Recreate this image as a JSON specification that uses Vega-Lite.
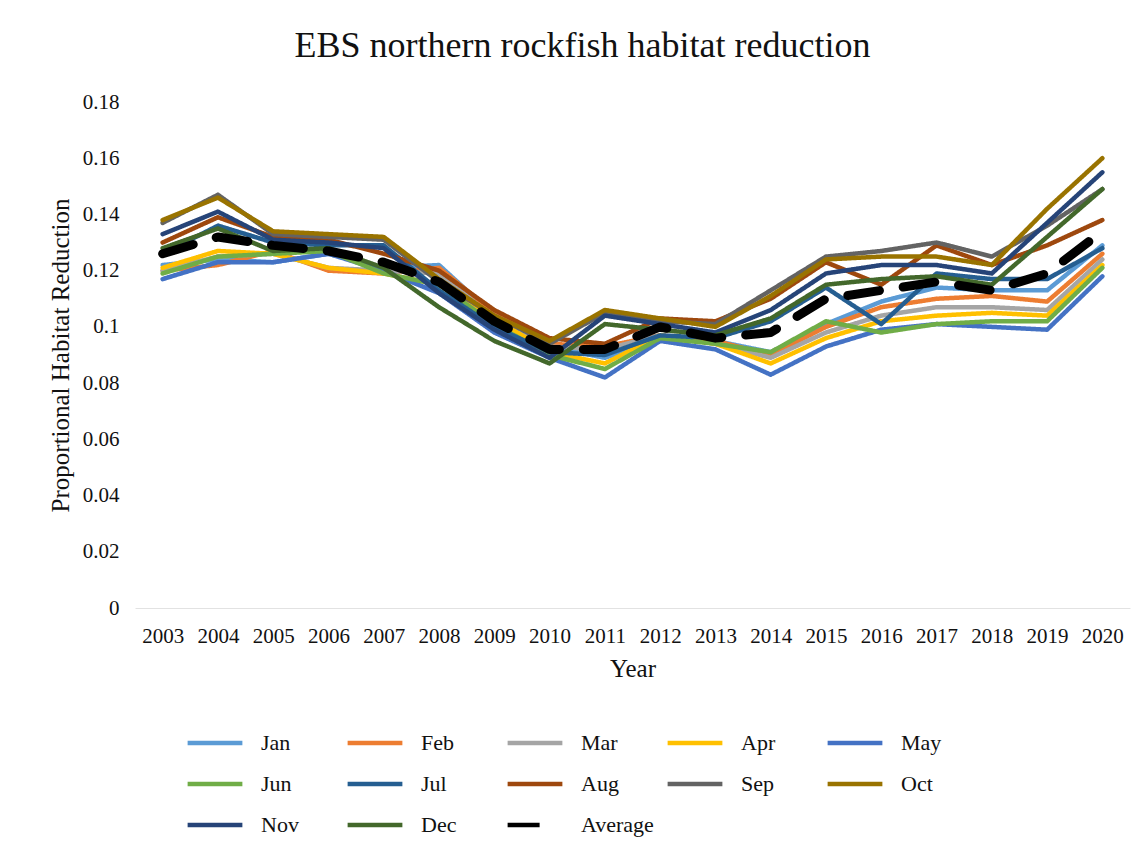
{
  "$schema": "https://vega.github.io/schema/vega-lite/v6.json",
  "width": 995,
  "height": 506,
  "autosize": {"type": "none"},
  "padding": {"left": 135, "top": 102, "right": 14, "bottom": 242},
  "background": "white",
  "config": {
    "view": {"stroke": null},
    "font": "Liberation Serif"
  },
  "title": {
    "text": "EBS northern rockfish habitat reduction",
    "font": "Liberation Serif",
    "fontSize": 36,
    "fontWeight": "normal",
    "color": "#111111",
    "anchor": "middle",
    "dx": -50,
    "offset": 26
  },
  "datasets": {
    "d": [
      {"Year":"2003","Series":"Jan","Value":0.122},{"Year":"2004","Series":"Jan","Value":0.124},{"Year":"2005","Series":"Jan","Value":0.123},{"Year":"2006","Series":"Jan","Value":0.126},{"Year":"2007","Series":"Jan","Value":0.121},{"Year":"2008","Series":"Jan","Value":0.122},{"Year":"2009","Series":"Jan","Value":0.104},{"Year":"2010","Series":"Jan","Value":0.093},{"Year":"2011","Series":"Jan","Value":0.089},{"Year":"2012","Series":"Jan","Value":0.096},{"Year":"2013","Series":"Jan","Value":0.095},{"Year":"2014","Series":"Jan","Value":0.091},{"Year":"2015","Series":"Jan","Value":0.101},{"Year":"2016","Series":"Jan","Value":0.109},{"Year":"2017","Series":"Jan","Value":0.114},{"Year":"2018","Series":"Jan","Value":0.113},{"Year":"2019","Series":"Jan","Value":0.113},{"Year":"2020","Series":"Jan","Value":0.129},
      {"Year":"2003","Series":"Feb","Value":0.120},{"Year":"2004","Series":"Feb","Value":0.122},{"Year":"2005","Series":"Feb","Value":0.127},{"Year":"2006","Series":"Feb","Value":0.120},{"Year":"2007","Series":"Feb","Value":0.119},{"Year":"2008","Series":"Feb","Value":0.121},{"Year":"2009","Series":"Feb","Value":0.105},{"Year":"2010","Series":"Feb","Value":0.094},{"Year":"2011","Series":"Feb","Value":0.093},{"Year":"2012","Series":"Feb","Value":0.097},{"Year":"2013","Series":"Feb","Value":0.095},{"Year":"2014","Series":"Feb","Value":0.090},{"Year":"2015","Series":"Feb","Value":0.100},{"Year":"2016","Series":"Feb","Value":0.107},{"Year":"2017","Series":"Feb","Value":0.110},{"Year":"2018","Series":"Feb","Value":0.111},{"Year":"2019","Series":"Feb","Value":0.109},{"Year":"2020","Series":"Feb","Value":0.126},
      {"Year":"2003","Series":"Mar","Value":0.120},{"Year":"2004","Series":"Mar","Value":0.125},{"Year":"2005","Series":"Mar","Value":0.126},{"Year":"2006","Series":"Mar","Value":0.121},{"Year":"2007","Series":"Mar","Value":0.120},{"Year":"2008","Series":"Mar","Value":0.119},{"Year":"2009","Series":"Mar","Value":0.103},{"Year":"2010","Series":"Mar","Value":0.093},{"Year":"2011","Series":"Mar","Value":0.092},{"Year":"2012","Series":"Mar","Value":0.097},{"Year":"2013","Series":"Mar","Value":0.094},{"Year":"2014","Series":"Mar","Value":0.089},{"Year":"2015","Series":"Mar","Value":0.098},{"Year":"2016","Series":"Mar","Value":0.104},{"Year":"2017","Series":"Mar","Value":0.107},{"Year":"2018","Series":"Mar","Value":0.107},{"Year":"2019","Series":"Mar","Value":0.106},{"Year":"2020","Series":"Mar","Value":0.124},
      {"Year":"2003","Series":"Apr","Value":0.121},{"Year":"2004","Series":"Apr","Value":0.127},{"Year":"2005","Series":"Apr","Value":0.126},{"Year":"2006","Series":"Apr","Value":0.121},{"Year":"2007","Series":"Apr","Value":0.119},{"Year":"2008","Series":"Apr","Value":0.115},{"Year":"2009","Series":"Apr","Value":0.103},{"Year":"2010","Series":"Apr","Value":0.091},{"Year":"2011","Series":"Apr","Value":0.087},{"Year":"2012","Series":"Apr","Value":0.097},{"Year":"2013","Series":"Apr","Value":0.094},{"Year":"2014","Series":"Apr","Value":0.087},{"Year":"2015","Series":"Apr","Value":0.096},{"Year":"2016","Series":"Apr","Value":0.102},{"Year":"2017","Series":"Apr","Value":0.104},{"Year":"2018","Series":"Apr","Value":0.105},{"Year":"2019","Series":"Apr","Value":0.104},{"Year":"2020","Series":"Apr","Value":0.122},
      {"Year":"2003","Series":"May","Value":0.117},{"Year":"2004","Series":"May","Value":0.123},{"Year":"2005","Series":"May","Value":0.123},{"Year":"2006","Series":"May","Value":0.126},{"Year":"2007","Series":"May","Value":0.120},{"Year":"2008","Series":"May","Value":0.112},{"Year":"2009","Series":"May","Value":0.098},{"Year":"2010","Series":"May","Value":0.089},{"Year":"2011","Series":"May","Value":0.082},{"Year":"2012","Series":"May","Value":0.095},{"Year":"2013","Series":"May","Value":0.092},{"Year":"2014","Series":"May","Value":0.083},{"Year":"2015","Series":"May","Value":0.093},{"Year":"2016","Series":"May","Value":0.099},{"Year":"2017","Series":"May","Value":0.101},{"Year":"2018","Series":"May","Value":0.100},{"Year":"2019","Series":"May","Value":0.099},{"Year":"2020","Series":"May","Value":0.118},
      {"Year":"2003","Series":"Jun","Value":0.119},{"Year":"2004","Series":"Jun","Value":0.125},{"Year":"2005","Series":"Jun","Value":0.126},{"Year":"2006","Series":"Jun","Value":0.127},{"Year":"2007","Series":"Jun","Value":0.119},{"Year":"2008","Series":"Jun","Value":0.115},{"Year":"2009","Series":"Jun","Value":0.101},{"Year":"2010","Series":"Jun","Value":0.090},{"Year":"2011","Series":"Jun","Value":0.085},{"Year":"2012","Series":"Jun","Value":0.096},{"Year":"2013","Series":"Jun","Value":0.094},{"Year":"2014","Series":"Jun","Value":0.091},{"Year":"2015","Series":"Jun","Value":0.102},{"Year":"2016","Series":"Jun","Value":0.098},{"Year":"2017","Series":"Jun","Value":0.101},{"Year":"2018","Series":"Jun","Value":0.102},{"Year":"2019","Series":"Jun","Value":0.102},{"Year":"2020","Series":"Jun","Value":0.121},
      {"Year":"2003","Series":"Jul","Value":0.126},{"Year":"2004","Series":"Jul","Value":0.136},{"Year":"2005","Series":"Jul","Value":0.130},{"Year":"2006","Series":"Jul","Value":0.129},{"Year":"2007","Series":"Jul","Value":0.129},{"Year":"2008","Series":"Jul","Value":0.113},{"Year":"2009","Series":"Jul","Value":0.100},{"Year":"2010","Series":"Jul","Value":0.091},{"Year":"2011","Series":"Jul","Value":0.090},{"Year":"2012","Series":"Jul","Value":0.097},{"Year":"2013","Series":"Jul","Value":0.096},{"Year":"2014","Series":"Jul","Value":0.102},{"Year":"2015","Series":"Jul","Value":0.114},{"Year":"2016","Series":"Jul","Value":0.101},{"Year":"2017","Series":"Jul","Value":0.119},{"Year":"2018","Series":"Jul","Value":0.117},{"Year":"2019","Series":"Jul","Value":0.117},{"Year":"2020","Series":"Jul","Value":0.128},
      {"Year":"2003","Series":"Aug","Value":0.130},{"Year":"2004","Series":"Aug","Value":0.139},{"Year":"2005","Series":"Aug","Value":0.132},{"Year":"2006","Series":"Aug","Value":0.131},{"Year":"2007","Series":"Aug","Value":0.126},{"Year":"2008","Series":"Aug","Value":0.120},{"Year":"2009","Series":"Aug","Value":0.106},{"Year":"2010","Series":"Aug","Value":0.096},{"Year":"2011","Series":"Aug","Value":0.094},{"Year":"2012","Series":"Aug","Value":0.103},{"Year":"2013","Series":"Aug","Value":0.102},{"Year":"2014","Series":"Aug","Value":0.110},{"Year":"2015","Series":"Aug","Value":0.123},{"Year":"2016","Series":"Aug","Value":0.115},{"Year":"2017","Series":"Aug","Value":0.129},{"Year":"2018","Series":"Aug","Value":0.122},{"Year":"2019","Series":"Aug","Value":0.129},{"Year":"2020","Series":"Aug","Value":0.138},
      {"Year":"2003","Series":"Sep","Value":0.137},{"Year":"2004","Series":"Sep","Value":0.147},{"Year":"2005","Series":"Sep","Value":0.133},{"Year":"2006","Series":"Sep","Value":0.132},{"Year":"2007","Series":"Sep","Value":0.131},{"Year":"2008","Series":"Sep","Value":0.116},{"Year":"2009","Series":"Sep","Value":0.104},{"Year":"2010","Series":"Sep","Value":0.094},{"Year":"2011","Series":"Sep","Value":0.105},{"Year":"2012","Series":"Sep","Value":0.102},{"Year":"2013","Series":"Sep","Value":0.101},{"Year":"2014","Series":"Sep","Value":0.113},{"Year":"2015","Series":"Sep","Value":0.125},{"Year":"2016","Series":"Sep","Value":0.127},{"Year":"2017","Series":"Sep","Value":0.130},{"Year":"2018","Series":"Sep","Value":0.125},{"Year":"2019","Series":"Sep","Value":0.136},{"Year":"2020","Series":"Sep","Value":0.149},
      {"Year":"2003","Series":"Oct","Value":0.138},{"Year":"2004","Series":"Oct","Value":0.146},{"Year":"2005","Series":"Oct","Value":0.134},{"Year":"2006","Series":"Oct","Value":0.133},{"Year":"2007","Series":"Oct","Value":0.132},{"Year":"2008","Series":"Oct","Value":0.117},{"Year":"2009","Series":"Oct","Value":0.104},{"Year":"2010","Series":"Oct","Value":0.095},{"Year":"2011","Series":"Oct","Value":0.106},{"Year":"2012","Series":"Oct","Value":0.103},{"Year":"2013","Series":"Oct","Value":0.100},{"Year":"2014","Series":"Oct","Value":0.111},{"Year":"2015","Series":"Oct","Value":0.124},{"Year":"2016","Series":"Oct","Value":0.125},{"Year":"2017","Series":"Oct","Value":0.125},{"Year":"2018","Series":"Oct","Value":0.122},{"Year":"2019","Series":"Oct","Value":0.142},{"Year":"2020","Series":"Oct","Value":0.160},
      {"Year":"2003","Series":"Nov","Value":0.133},{"Year":"2004","Series":"Nov","Value":0.141},{"Year":"2005","Series":"Nov","Value":0.131},{"Year":"2006","Series":"Nov","Value":0.130},{"Year":"2007","Series":"Nov","Value":0.128},{"Year":"2008","Series":"Nov","Value":0.112},{"Year":"2009","Series":"Nov","Value":0.099},{"Year":"2010","Series":"Nov","Value":0.089},{"Year":"2011","Series":"Nov","Value":0.104},{"Year":"2012","Series":"Nov","Value":0.101},{"Year":"2013","Series":"Nov","Value":0.098},{"Year":"2014","Series":"Nov","Value":0.106},{"Year":"2015","Series":"Nov","Value":0.119},{"Year":"2016","Series":"Nov","Value":0.122},{"Year":"2017","Series":"Nov","Value":0.122},{"Year":"2018","Series":"Nov","Value":0.119},{"Year":"2019","Series":"Nov","Value":0.137},{"Year":"2020","Series":"Nov","Value":0.155},
      {"Year":"2003","Series":"Dec","Value":0.128},{"Year":"2004","Series":"Dec","Value":0.135},{"Year":"2005","Series":"Dec","Value":0.127},{"Year":"2006","Series":"Dec","Value":0.128},{"Year":"2007","Series":"Dec","Value":0.121},{"Year":"2008","Series":"Dec","Value":0.107},{"Year":"2009","Series":"Dec","Value":0.095},{"Year":"2010","Series":"Dec","Value":0.087},{"Year":"2011","Series":"Dec","Value":0.101},{"Year":"2012","Series":"Dec","Value":0.099},{"Year":"2013","Series":"Dec","Value":0.097},{"Year":"2014","Series":"Dec","Value":0.103},{"Year":"2015","Series":"Dec","Value":0.115},{"Year":"2016","Series":"Dec","Value":0.117},{"Year":"2017","Series":"Dec","Value":0.118},{"Year":"2018","Series":"Dec","Value":0.115},{"Year":"2019","Series":"Dec","Value":0.132},{"Year":"2020","Series":"Dec","Value":0.149},
      {"Year":"2003","Series":"Average","Value":0.126},{"Year":"2004","Series":"Average","Value":0.132},{"Year":"2005","Series":"Average","Value":0.129},{"Year":"2006","Series":"Average","Value":0.127},{"Year":"2007","Series":"Average","Value":0.123},{"Year":"2008","Series":"Average","Value":0.116},{"Year":"2009","Series":"Average","Value":0.102},{"Year":"2010","Series":"Average","Value":0.092},{"Year":"2011","Series":"Average","Value":0.092},{"Year":"2012","Series":"Average","Value":0.100},{"Year":"2013","Series":"Average","Value":0.096},{"Year":"2014","Series":"Average","Value":0.098},{"Year":"2015","Series":"Average","Value":0.110},{"Year":"2016","Series":"Average","Value":0.113},{"Year":"2017","Series":"Average","Value":0.116},{"Year":"2018","Series":"Average","Value":0.113},{"Year":"2019","Series":"Average","Value":0.119},{"Year":"2020","Series":"Average","Value":0.134}
    ]
  },
  "data": {"name": "d"},
  "encoding": {
    "x": {
      "field": "Year",
      "type": "ordinal",
      "scale": {"type": "point", "padding": 0.5},
      "axis": {
        "title": "Year",
        "titleFont": "Liberation Serif",
        "titleFontSize": 25,
        "titleFontWeight": "normal",
        "titleColor": "#111111",
        "titlePadding": 10,
        "labelFont": "Liberation Serif",
        "labelFontSize": 21,
        "labelColor": "#111111",
        "labelAngle": 0,
        "labelPadding": 17,
        "ticks": false,
        "domain": true,
        "domainColor": "#e2e2e2",
        "grid": false
      }
    },
    "y": {
      "field": "Value",
      "type": "quantitative",
      "scale": {"domain": [0, 0.18], "nice": false, "zero": true},
      "axis": {
        "title": "Proportional Habitat Reduction",
        "titleFont": "Liberation Serif",
        "titleFontSize": 25,
        "titleFontWeight": "normal",
        "titleColor": "#111111",
        "titlePadding": 9,
        "labelFont": "Liberation Serif",
        "labelFontSize": 21,
        "labelColor": "#111111",
        "labelPadding": 16,
        "format": ".2~f",
        "values": [0, 0.02, 0.04, 0.06, 0.08, 0.1, 0.12, 0.14, 0.16, 0.18],
        "ticks": false,
        "domain": false,
        "grid": false
      }
    },
    "color": {
      "field": "Series",
      "type": "nominal",
      "title": null,
      "sort": ["Jan","Feb","Mar","Apr","May","Jun","Jul","Aug","Sep","Oct","Nov","Dec","Average"],
      "scale": {
        "domain": ["Jan","Feb","Mar","Apr","May","Jun","Jul","Aug","Sep","Oct","Nov","Dec","Average"],
        "range": ["#5B9BD5","#ED7D31","#A5A5A5","#FFC000","#4472C4","#70AD47","#255E91","#9E480E","#636363","#997300","#264478","#43682B","#000000"]
      },
      "legend": {
        "orient": "none",
        "legendX": 50,
        "legendY": 611,
        "direction": "horizontal",
        "columns": 5,
        "gridAlign": "all",
        "columnPadding": 4,
        "rowPadding": -15,
        "symbolType": "stroke",
        "symbolSize": 3000,
        "symbolStrokeWidth": 4.5,
        "labelFont": "Liberation Serif",
        "labelFontSize": 22,
        "labelColor": "#111111",
        "labelOffset": 16,
        "labelLimit": 200
      }
    },
    "strokeDash": {
      "field": "Series",
      "type": "nominal",
      "title": null,
      "sort": ["Jan","Feb","Mar","Apr","May","Jun","Jul","Aug","Sep","Oct","Nov","Dec","Average"],
      "scale": {
        "domain": ["Jan","Feb","Mar","Apr","May","Jun","Jul","Aug","Sep","Oct","Nov","Dec","Average"],
        "range": [[1,0],[1,0],[1,0],[1,0],[1,0],[1,0],[1,0],[1,0],[1,0],[1,0],[1,0],[1,0],[32,24]]
      }
    }
  },
  "layer": [
    {
      "transform": [{"filter": "datum.Series !== 'Average'"}],
      "mark": {"type": "line", "strokeCap": "round", "strokeJoin": "round", "strokeWidth": 4.5}
    },
    {
      "transform": [{"filter": "datum.Series === 'Average'"}],
      "mark": {"type": "line", "strokeCap": "round", "strokeJoin": "round", "strokeWidth": 9}
    }
  ]
}
